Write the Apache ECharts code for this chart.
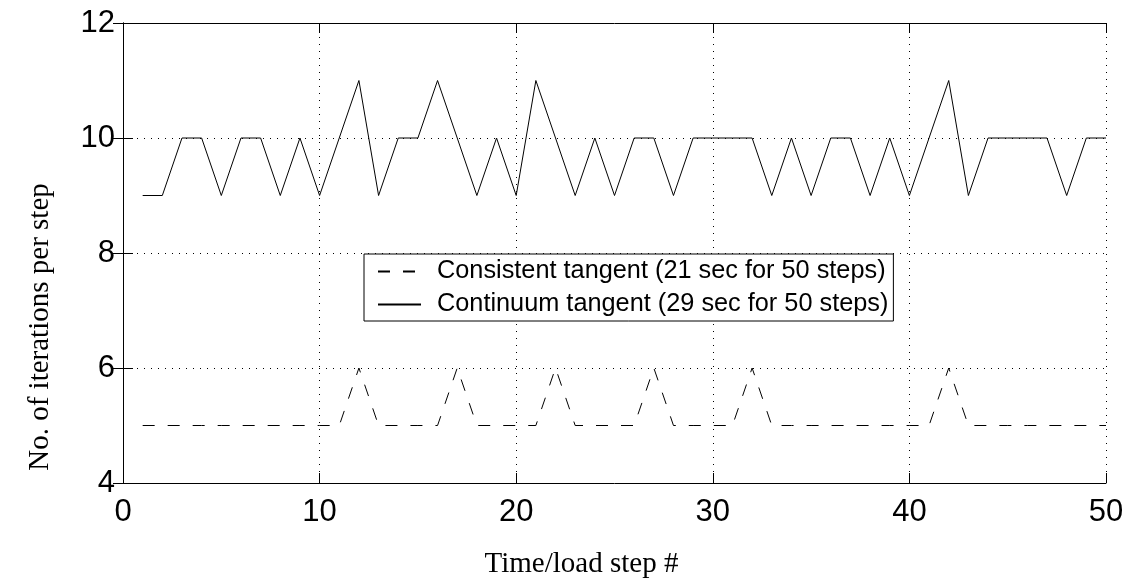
<!DOCTYPE html>
<html>
<head>
<meta charset="utf-8">
<style>
  html, body { margin: 0; padding: 0; background: #fff; }
  #chart { width: 1129px; height: 579px; }
</style>
<script src="https://cdn.jsdelivr.net/npm/echarts@6/dist/echarts.min.js"></script>
</head>
<body>
<div id="chart"></div>
<script>
// Time/load steps
const steps = [1, 2, 3, 4, 5, 6, 7, 8, 9, 10, 11, 12, 13, 14, 15, 16, 17, 18, 19, 20,
               21, 22, 23, 24, 25, 26, 27, 28, 29, 30, 31, 32, 33, 34, 35, 36, 37, 38, 39, 40,
               41, 42, 43, 44, 45, 46, 47, 48, 49, 50];

// Iterations per step, consistent tangent
const consistentIters = [5, 5, 5, 5, 5, 5, 5, 5, 5, 5,
                         5, 6, 5, 5, 5, 5, 6, 5, 5, 5,
                         5, 6, 5, 5, 5, 5, 6, 5, 5, 5,
                         5, 6, 5, 5, 5, 5, 5, 5, 5, 5,
                         5, 6, 5, 5, 5, 5, 5, 5, 5, 5];

// Iterations per step, continuum tangent
const continuumIters = [9, 9, 10, 10, 9, 10, 10, 9, 10, 9,
                        10, 11, 9, 10, 10, 11, 10, 9, 10, 9,
                        11, 10, 9, 10, 9, 10, 10, 9, 10, 10,
                        10, 10, 9, 10, 9, 10, 10, 9, 10, 9,
                        10, 11, 9, 10, 10, 10, 10, 9, 10, 10];

const seriesNames = ['Consistent tangent (21 sec for 50 steps)',
                     'Continuum tangent (29 sec for 50 steps)'];

const xTitle = 'Time/load step #';
const yTitle = 'No. of iterations per step';

const SANS = '"Liberation Sans", Arial, Helvetica, sans-serif';
const SERIF = '"Liberation Serif", "Times New Roman", Times, serif';

const pairs = (ys) => steps.map((s, i) => [s, ys[i]]);

const dotted = { color: '#000', width: 1, type: [1, 6] };

const frameAxis = (extra) => Object.assign({
  type: 'value',
  axisLine: { show: true, lineStyle: { color: '#000', width: 1 } },
  axisTick: { show: true, inside: true, length: 10, lineStyle: { color: '#000', width: 1 } },
  splitLine: { show: false },
  axisLabel: { show: false }
}, extra);

const chart = echarts.init(document.getElementById('chart'), null, { renderer: 'canvas' });

chart.setOption({
  animation: false,
  backgroundColor: '#fff',
  grid: { left: 123, right: 23, top: 23, bottom: 96, containLabel: false },
  xAxis: [
    frameAxis({
      position: 'bottom', min: 0, max: 50, interval: 10,
      axisLabel: { show: true, color: '#000', fontFamily: SANS, fontSize: 31, margin: 14 },
      splitLine: { show: true, lineStyle: dotted }
    }),
    frameAxis({ position: 'top', min: 0, max: 50, interval: 10 })
  ],
  yAxis: [
    frameAxis({
      position: 'left', min: 4, max: 12, interval: 2,
      axisLabel: { show: true, color: '#000', fontFamily: SANS, fontSize: 31, margin: 8 },
      splitLine: { show: true, lineStyle: dotted }
    }),
    frameAxis({ position: 'right', min: 4, max: 12, interval: 2 })
  ],
  legend: {
    orient: 'vertical',
    left: 364,
    top: 254,
    backgroundColor: '#fff',
    borderColor: '#000',
    borderWidth: 1,
    borderRadius: 0,
    padding: [5, 5, 4, 13],
    itemGap: 8,
    itemWidth: 43,
    itemHeight: 10,
    // keep only the line sample in each legend icon
    itemStyle: { opacity: 0 },
    textStyle: { color: '#000', fontFamily: SANS, fontSize: 25.3, padding: [0, 0, 0, 11] },
    data: seriesNames
  },
  series: [
    {
      name: seriesNames[0],
      type: 'line',
      data: pairs(consistentIters),
      symbol: 'none',
      lineStyle: { color: '#000', width: 1, type: [12, 13] },
      itemStyle: { color: '#000' },
      z: 3
    },
    {
      name: seriesNames[1],
      type: 'line',
      data: pairs(continuumIters),
      symbol: 'none',
      lineStyle: { color: '#000', width: 1, type: 'solid' },
      itemStyle: { color: '#000' },
      z: 3
    }
  ],
  graphic: [
    {
      type: 'text',
      x: 581.5,
      y: 564,
      style: { text: xTitle, fill: '#000', font: '29px ' + SERIF, textAlign: 'center', textVerticalAlign: 'middle' }
    },
    {
      type: 'text',
      x: 40,
      y: 327,
      rotation: Math.PI / 2,
      style: { text: yTitle, fill: '#000', font: '29px ' + SERIF, textAlign: 'center', textVerticalAlign: 'middle' }
    }
  ]
});
</script>
</body>
</html>
